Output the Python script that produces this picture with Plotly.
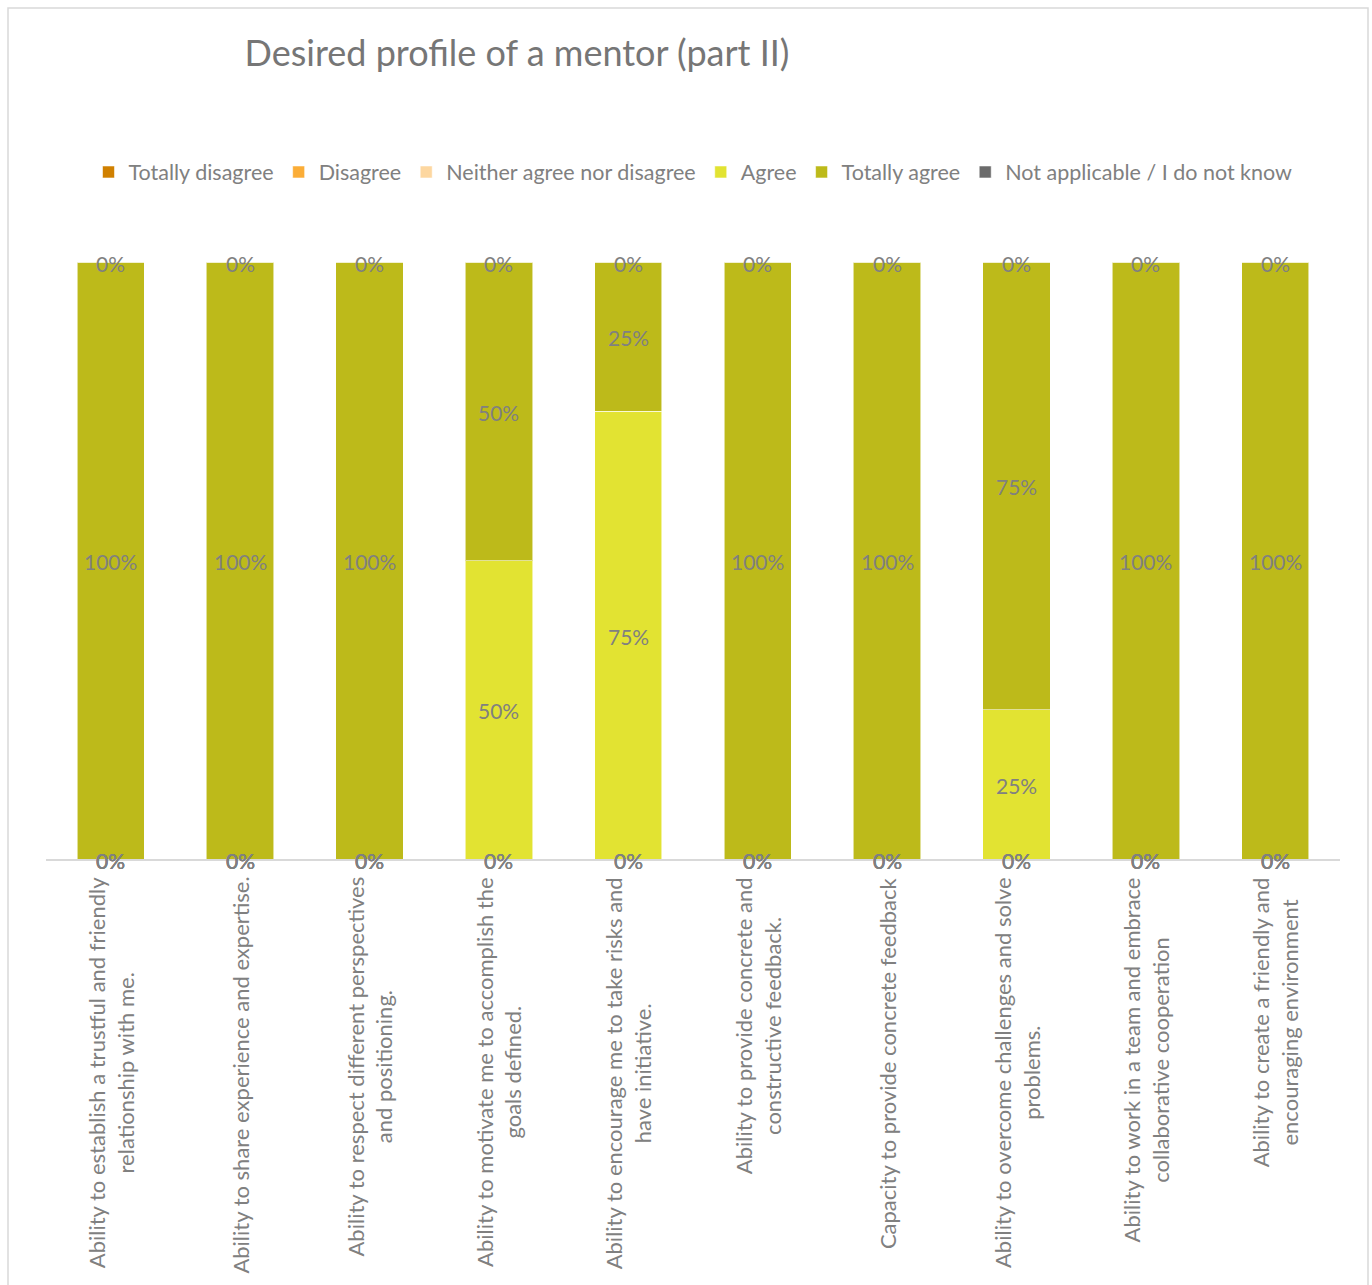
import plotly.graph_objects as go

categories = [
    "Ability to establish a trustful and friendly<br>relationship with me.",
    "Ability to share experience and expertise.",
    "Ability to respect different perspectives<br>and positioning.",
    "Ability to motivate me to accomplish the<br>goals defined.",
    "Ability to encourage me to take risks and<br>have initiative.",
    "Ability to provide concrete and<br>constructive feedback.",
    "Capacity to provide concrete feedback",
    "Ability to overcome challenges and solve<br>problems.",
    "Ability to work in a team and embrace<br>collaborative cooperation",
    "Ability to create a friendly and<br>encouraging environment",
]

series_names = ["Totally disagree", "Disagree", "Neither agree nor disagree",
                "Agree", "Totally agree", "Not applicable / I do not know"]

totally_disagree = [0, 0, 0, 0, 0, 0, 0, 0, 0, 0]
disagree = [0, 0, 0, 0, 0, 0, 0, 0, 0, 0]
neither = [0, 0, 0, 0, 0, 0, 0, 0, 0, 0]
agree = [0, 0, 0, 0.50, 0.75, 0, 0, 0.25, 0, 0]
totally_agree = [1.00, 1.00, 1.00, 0.50, 0.25, 1.00, 1.00, 0.75, 1.00, 1.00]
not_applicable = [0, 0, 0, 0, 0, 0, 0, 0, 0, 0]

series_values = [totally_disagree, disagree, neither, agree, totally_agree, not_applicable]
colors = ["#D08000", "#FBAD37", "#FDD7A0", "#E2E332", "#BDBA1A", "#6B6B6B"]

LABEL_GRAY = "#808080"
FONT = "Lato, 'Open Sans', sans-serif"

xs = list(range(len(categories)))

fig = go.Figure()
for name, vals, col in zip(series_names, series_values, colors):
    fig.add_trace(go.Bar(
        x=xs, y=vals, name=name,
        marker=dict(color=col, line=dict(color="rgba(255,255,255,0.55)", width=1)),
        hoverinfo="skip",
    ))

# data labels at segment centres (zero segments at their stack position)
cum = [0.0] * len(categories)
for vals in series_values:
    for i, v in enumerate(vals):
        fig.add_annotation(
            x=xs[i], xref="x", y=cum[i] + v / 2, yref="y",
            text=f"{v:.0%}", showarrow=False, yshift=-1,
            font=dict(size=21, color=LABEL_GRAY, family=FONT),
        )
        cum[i] += v

# category labels (rotated, centred lines)
for i, c in enumerate(categories):
    fig.add_annotation(
        x=xs[i], xref="x", y=0, yref="paper", yanchor="top", xanchor="center",
        yshift=-16, text=c, textangle=-90, align="center", showarrow=False,
        font=dict(size=22, color=LABEL_GRAY, family=FONT),
    )

# chart frame
W, H = 1372, 1285
L, R, T, B = 46, 32, 262, 426
pw, ph = W - L - R, H - T - B
def px_x(p): return (p - L) / pw
def px_y(p): return (H - B - p) / ph
fig.add_shape(type="rect", xref="paper", yref="paper",
              x0=px_x(8), x1=px_x(1368), y0=px_y(1300), y1=px_y(8),
              line=dict(color="#D9D9D9", width=1.5), fillcolor="rgba(0,0,0,0)", layer="below")

fig.update_layout(
    width=W, height=H,
    margin=dict(l=L, r=R, t=T, b=B, autoexpand=False),
    barmode="stack", bargap=0.48,
    plot_bgcolor="white", paper_bgcolor="white",
    title=dict(text="Desired profile of a mentor (part II)", x=517 / W, xanchor="center",
               y=1 - 53 / H, yanchor="middle", yref="container",
               font=dict(size=36, color="#767676", family=FONT)),
    legend=dict(orientation="h", x=0.5, xanchor="center", y=px_y(172), yanchor="middle",
                font=dict(size=21.5, color=LABEL_GRAY, family=FONT), traceorder="normal",
                itemwidth=30),
    xaxis=dict(range=[-0.5, len(categories) - 0.5], showticklabels=False, ticks="",
               showgrid=False, zeroline=False, showline=True, linecolor="#D9D9D9", linewidth=2),
    yaxis=dict(range=[0, 1], visible=False, showgrid=False, zeroline=False),
    showlegend=True,
)

fig.write_html("out.html")
